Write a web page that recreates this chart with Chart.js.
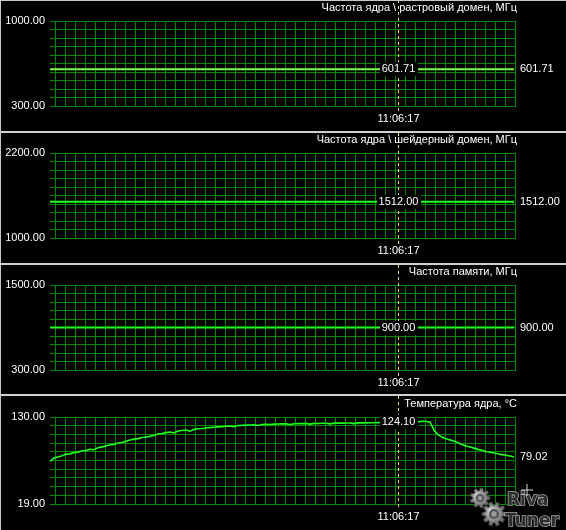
<!DOCTYPE html>
<html><head><meta charset="utf-8">
<script src="https://cdn.jsdelivr.net/npm/chart.js@4.4.1/dist/chart.umd.min.js"></script>
<style>
html,body{margin:0;padding:0;background:#000;}
#wrap{position:relative;width:566px;height:530px;background:#000;overflow:hidden;}
#wrap canvas{position:absolute;left:0;}
.sep{position:absolute;left:0;width:566px;height:2px;background:#d0d0d0;}
</style></head><body>
<div id="wrap">
<canvas id="c1" width="566" height="131" style="top:0px"></canvas>
<div class="sep" style="top:131px"></div>
<canvas id="c2" width="566" height="130" style="top:133px"></canvas>
<div class="sep" style="top:263px"></div>
<canvas id="c3" width="566" height="129" style="top:265px"></canvas>
<div class="sep" style="top:394px"></div>
<canvas id="c4" width="566" height="134" style="top:396px"></canvas>
<div style="position:absolute;left:0;top:0;width:1px;height:530px;background:#c8c8c8"></div>
<div style="position:absolute;left:0;top:0;width:566px;height:1px;background:#c8c8c8"></div>
</div>
<script>
// ---- data ----
const cursorTime = '11:06:17';
const cursorSample = 87;
const panelTitles = [
  'Частота ядра \\ растровый домен, МГц',
  'Частота ядра \\ шейдерный домен, МГц',
  'Частота памяти, МГц',
  'Температура ядра, °C'
];
const axisMin = [300, 1000, 300, 19];
const axisMax = [1000, 2200, 1500, 130];
// constant readings (first and last sample of the window)
const rasterClock = [601.71, 601.71];
const shaderClock = [1512.00, 1512.00];
const memoryClock = [900.00, 900.00];
// core temperature, one reading per sample
const coreTemp = [
  73.5, 77.8, 79.0, 80.5, 82.6, 83.0, 84.6, 85.2, 86.9, 87.3,
  88.9, 88.2, 90.7, 91.9, 93.0, 94.6, 95.1, 96.9, 97.4, 99.0,
  100.6, 101.8, 102.4, 103.9, 104.5, 105.3, 106.8, 108.4, 109.0, 110.1,
  110.9, 109.6, 112.2, 112.8, 113.3, 111.8, 114.2, 115.0, 115.3, 115.9,
  116.4, 116.9, 117.4, 117.6, 118.2, 118.6, 117.5, 119.1, 119.3, 119.6,
  119.8, 120.0, 119.1, 120.4, 120.6, 120.5, 120.9, 121.0, 121.2, 121.3,
  120.3, 121.4, 121.6, 121.5, 121.8, 120.9, 121.9, 121.8, 122.0, 122.1,
  121.3, 122.2, 122.3, 122.2, 122.4, 122.3, 121.6, 122.5, 122.6, 122.5,
  122.7, 122.6, 122.8, 123.0, 123.3, 123.6, 123.9, 124.10, 124.0, 124.2,
  124.1, 124.3, 124.0, 124.4, 124.2, 123.6, 113.0, 107.5, 104.4, 102.3,
  100.8, 99.0, 97.0, 95.0, 93.1, 91.6, 90.3, 88.7, 87.5, 86.0,
  85.0, 84.0, 83.2, 82.0, 81.2, 80.3, 79.02
];

// ---- styling / layout ----
const xMax = 116.5;
const gridStep = 2.5, gridOffset = 1.25;
const gridColor = '#008a00';
const textColor = '#ffffff';
const cursorColor = '#e4dc86';
const FONT = '11px "Liberation Sans", Arial, sans-serif';

const panels = [
  {id:'c1', series:rasterClock, color:'#7dff4a', width:2, padTop:21, padBottom:25},
  {id:'c2', series:shaderClock, color:'#22ff22', width:2, padTop:20, padBottom:25},
  {id:'c3', series:memoryClock, color:'#22ff22', width:2, padTop:20, padBottom:24},
  {id:'c4', series:coreTemp,    color:'#22ff22', width:1.6, padTop:21, padBottom:26, logo:true}
];
panels.forEach((p,i)=>{ p.title = panelTitles[i]; p.min = axisMin[i]; p.max = axisMax[i]; });

function toPoints(series){
  const n = coreTemp.length;
  if (series.length === n) return series.map((v,i)=>({x:i, y:v}));
  return [{x:0, y:series[0]}, {x:n-1, y:series[series.length-1]}];
}
function valueAt(pts, x){
  for (let i=0;i<pts.length-1;i++){
    const a=pts[i], b=pts[i+1];
    if (x>=a.x && x<=b.x){ const t=(x-a.x)/(b.x-a.x||1); return a.y+(b.y-a.y)*t; }
  }
  return pts[pts.length-1].y;
}

function drawGear(ctx, x, y, r, teeth){
  const step = Math.PI*2/teeth;
  ctx.beginPath();
  for (let i=0;i<teeth;i++){
    const a0 = i*step;
    const pts = [[r*0.72, a0-0.4*step],[r, a0-0.2*step],[r, a0+0.2*step],[r*0.72, a0+0.4*step]];
    pts.forEach(([rr,a],k)=>{ const px=x+rr*Math.cos(a), py=y+rr*Math.sin(a); if(i===0&&k===0) ctx.moveTo(px,py); else ctx.lineTo(px,py); });
  }
  ctx.closePath();
  const g = ctx.createRadialGradient(x-r*0.3,y-r*0.3,1,x,y,r);
  g.addColorStop(0,'#d0d0d0'); g.addColorStop(1,'#606060');
  ctx.fillStyle = g; ctx.fill();
  ctx.strokeStyle = '#484848'; ctx.lineWidth = 1; ctx.stroke();
  ctx.beginPath(); ctx.arc(x,y,r*0.42,0,Math.PI*2); ctx.fillStyle='#585858'; ctx.fill();
  ctx.beginPath(); ctx.arc(x,y,r*0.22,0,Math.PI*2); ctx.fillStyle='#9a9a9a'; ctx.fill();
}

function makeOverlay(p, pts){
  return {
    id:'overlay_'+p.id,
    afterDatasetsDraw(chart){
      const ctx = chart.ctx, a = chart.chartArea;
      const xs = chart.scales.x, ys = chart.scales.y;
      ctx.save();
      if (p.logo){
        drawGear(ctx, 480, 102, 10, 9);
        drawGear(ctx, 494, 118, 12, 10);
        ctx.font = 'bold 17px "DejaVu Sans", sans-serif';
        ctx.textAlign = 'left'; ctx.textBaseline = 'alphabetic';
        ctx.lineWidth = 1.5; ctx.strokeStyle = '#a8a8a8'; ctx.fillStyle = '#2e2e2e';
        ctx.strokeText('Riva', 507, 109); ctx.fillText('Riva', 507, 109);
        ctx.strokeText('Tuner', 505, 130); ctx.fillText('Tuner', 505, 130);
        ctx.strokeStyle = '#d8d8d8'; ctx.lineWidth = 1;
        ctx.beginPath(); ctx.moveTo(527, 88); ctx.lineTo(527, 100); ctx.moveTo(521, 94); ctx.lineTo(533, 94); ctx.stroke();
      }
      const cx = Math.round(xs.getPixelForValue(cursorSample)) + 0.5;
      ctx.strokeStyle = cursorColor; ctx.lineWidth = 1; ctx.setLineDash([3,3]);
      ctx.beginPath(); ctx.moveTo(cx, 0); ctx.lineTo(cx, a.bottom + 6); ctx.stroke();
      ctx.setLineDash([]);
      ctx.font = FONT; ctx.textBaseline = 'middle'; ctx.fillStyle = textColor;
      ctx.textAlign = 'right';
      ctx.fillText(p.title, a.right + 1, a.top - 13);
      ctx.fillText(p.max.toFixed(2), a.left - 5, ys.getPixelForValue(p.max));
      ctx.fillText(p.min.toFixed(2), a.left - 5, ys.getPixelForValue(p.min));
      const cv = valueAt(pts, cursorSample);
      const vy = ys.getPixelForValue(cv);
      const txt = cv.toFixed(2);
      const w = ctx.measureText(txt).width;
      ctx.fillStyle = '#000';
      ctx.fillRect(Math.round(cx - w/2 - 2), Math.round(vy - 7), Math.round(w + 4), 14);
      ctx.fillStyle = textColor; ctx.textAlign = 'center';
      ctx.fillText(txt, cx, vy);
      const lv = pts[pts.length-1].y;
      ctx.textAlign = 'left';
      ctx.fillText(lv.toFixed(2), a.right + 4, ys.getPixelForValue(lv));
      const tw = ctx.measureText(cursorTime).width;
      ctx.fillStyle = '#000';
      ctx.fillRect(Math.round(cx - tw/2 - 2), Math.round(a.bottom + 6), Math.round(tw + 4), 13);
      ctx.fillStyle = textColor; ctx.textAlign = 'center';
      ctx.fillText(cursorTime, cx, a.bottom + 12.5);
      ctx.restore();
    }
  };
}

panels.forEach(p=>{
  const pts = toPoints(p.series);
  new Chart(document.getElementById(p.id), {
    type:'line',
    data:{datasets:[{data:pts, borderColor:p.color, borderWidth:p.width, pointRadius:0, tension:0, fill:false}]},
    options:{
      responsive:false, animation:false, devicePixelRatio:1, events:[],
      layout:{padding:{left:0, right:50, top:p.padTop, bottom:p.padBottom}},
      plugins:{legend:{display:false}, tooltip:{enabled:false}, title:{display:false}},
      scales:{
        x:{type:'linear', min:0, max:xMax, border:{display:false},
           grid:{color:gridColor, lineWidth:1, drawTicks:false},
           ticks:{display:false},
           afterBuildTicks:s=>{ const t=[]; for(let v=gridOffset; v<=xMax+1e-9; v+=gridStep) t.push({value:v}); s.ticks=t; },
           afterFit:s=>{ s.height = 0; }},
        y:{type:'linear', min:p.min, max:p.max, border:{display:false},
           grid:{color:gridColor, lineWidth:1, drawTicks:false},
           ticks:{display:false},
           afterBuildTicks:s=>{ s.ticks = Array.from({length:11},(_,k)=>({value:p.min + k*(p.max-p.min)/10})); },
           afterFit:s=>{ s.width = 50; }}
      }
    },
    plugins:[makeOverlay(p, pts)]
  });
});
</script>
</body></html>
